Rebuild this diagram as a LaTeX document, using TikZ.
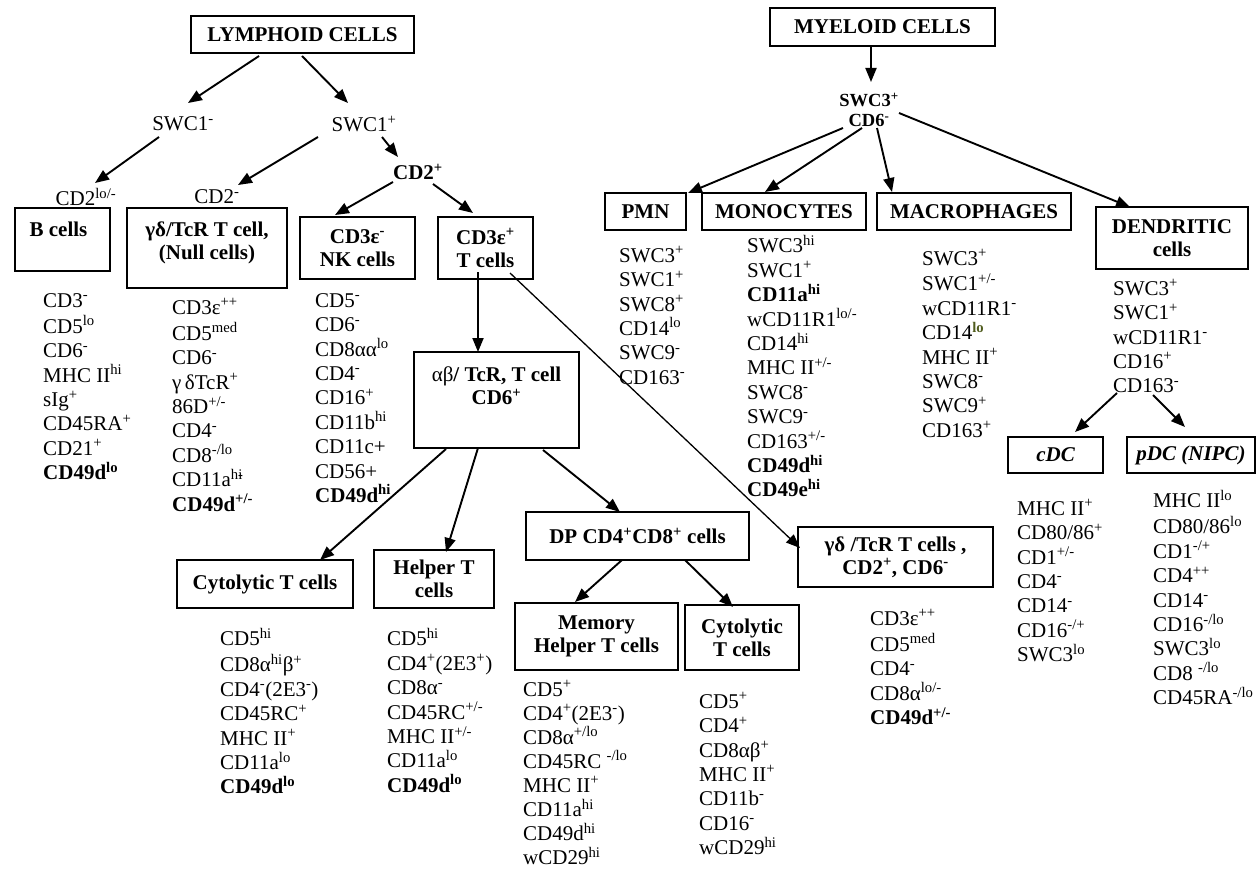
\documentclass[tikz,border=0pt]{standalone}
\usepackage{fontspec}
\setmainfont{Liberation Serif}
\usetikzlibrary{arrows.meta}
\definecolor{olivelo}{RGB}{80,92,30}
\newcommand\sps[1]{\textsuperscript{#1}}
\newcommand\lfont{\fontsize{21}{24.4}\selectfont}
\newcommand\mfont{\fontsize{21}{24.1}\selectfont}
\newcommand\bfont{\fontsize{21}{23}\selectfont\bfseries}
\newcommand\sfont{\fontsize{18.5}{19.5}\selectfont\bfseries}
\begin{document}
\begin{tikzpicture}[x=1pt,y=-1pt,
  box/.style={draw, line width=1.25pt, inner sep=0pt, font=\bfont, align=center},
  lst/.style={anchor=north west, inner sep=0pt, font=\lfont, align=left},
  lbl/.style={inner sep=0pt, font=\lfont},
  inlbl/.style={inner sep=0pt, font=\bfont, align=center, anchor=north},
  arr/.style={line width=1.9pt, -{Triangle[length=14pt,width=11pt]}},
  thinarr/.style={line width=1.3pt, -{Triangle[length=14pt,width=11pt]}}
]
\useasboundingbox (0,0) rectangle (1256,872);

% ---------------- boxes ----------------
\node[box, minimum width=223pt, minimum height=37pt] (lym) at (302.5,34.5) {LYMPHOID CELLS};
\node[box, minimum width=225pt, minimum height=38pt] (myl) at (882.5,27) {MYELOID CELLS};

\node[box, minimum width=95pt, minimum height=63pt,
  label={[inlbl, xshift=-4pt, yshift=-12.9pt]north:{\strut B cells}}] (bc) at (62.5,239.5) {};
\node[box, minimum width=160pt, minimum height=80pt,
  label={[inlbl, yshift=-12.9pt]north:{\strut γδ/TcR T cell,\\(Null cells)}}] (gd) at (207,248) {};
\node[box, minimum width=115pt, minimum height=62pt] (nk) at (357.5,248) {CD3ε\sps{-}\\NK cells};
\node[box, minimum width=95pt, minimum height=62pt] (tc) at (485.5,248) {CD3ε\sps{+}\\T cells};
\node[box, minimum width=165pt, minimum height=96pt,
  label={[inlbl, yshift=-13.9pt]north:{\strut{\mdseries αβ}/ TcR, T cell\\CD6\sps{+}}}] (ab) at (496.5,400) {};
\node[box, minimum width=176pt, minimum height=48pt] (cyt) at (265,584) {Cytolytic T cells};
\node[box, minimum width=120pt, minimum height=58pt] (hel) at (434,579) {Helper T\\cells};
\node[box, minimum width=223pt, minimum height=48pt] (dp) at (637.5,536) {DP CD4\sps{+}CD8\sps{+} cells};
\node[box, minimum width=163pt, minimum height=67pt] (mem) at (596.5,636.5) {Memory\\Helper T cells};
\node[box, minimum width=114pt, minimum height=65pt] (cyt2) at (742,637.5) {Cytolytic\\T cells};
\node[box, minimum width=195pt, minimum height=60pt] (gd2) at (895.5,557) {γδ /TcR T cells ,\\CD2\sps{+}, CD6\sps{-}};

\node[box, minimum width=81pt, minimum height=37pt] (pmn) at (645.5,211.5) {PMN};
\node[box, minimum width=164pt, minimum height=37pt] (mono) at (784,211.5) {MONOCYTES};
\node[box, minimum width=194pt, minimum height=37pt] (macro) at (974,211.5) {MACROPHAGES};
\node[box, minimum width=152pt, minimum height=62pt] (dend) at (1172,238) {DENDRITIC\\cells};
\node[box, minimum width=95pt, minimum height=36pt] (cdc) at (1055.5,455) {\itshape cDC};
\node[box, minimum width=128pt, minimum height=36pt] (pdc) at (1191,455) {\itshape pDC (NIPC)};

% ---------------- free labels ----------------
\node[lbl] (swcm) at (183,124) {SWC1\sps{-}};
\node[lbl] (swcp) at (364,124) {SWC1\sps{+}};
\node[lbl, font=\lfont\bfseries] (cd2p) at (418,172) {CD2\sps{+}};
\node[lbl] (cd2lo) at (86,197) {CD2\sps{lo/-}};
\node[lbl] (cd2m) at (217,197) {CD2\sps{-}};
\node[lbl, font=\sfont, align=center] (swc3) at (869,110) {SWC3\sps{+}\\CD6\sps{-}};

% ---------------- marker lists ----------------
\node[lst] (bl) at (43,290) {\strut CD3\sps{-}\\CD5\sps{lo}\\CD6\sps{-}\\MHC II\sps{hi}\\sIg\sps{+}\\CD45RA\sps{+}\\CD21\sps{+}\\\textbf{CD49d\sps{lo}}};
\node[lst] (gdl) at (172,297) {\strut CD3ε\sps{++}\\CD5\sps{med}\\CD6\sps{-}\\γ\,δTcR\sps{+}\\86D\sps{+/-}\\CD4\sps{-}\\CD8\sps{-/lo}\\CD11a\sps{hi\kern-0.28em-}\\\textbf{CD49d\sps{+/-}}};
\node[lst] (nkl) at (315,290) {\strut CD5\sps{-}\\CD6\sps{-}\\CD8αα\sps{lo}\\CD4\sps{-}\\CD16\sps{+}\\CD11b\sps{hi}\\CD11c+\\CD56+\\\textbf{CD49d\sps{hi}}};
\node[lst] (cyl) at (220,628) {\strut CD5\sps{hi}\\CD8α\sps{hi}β\sps{+}\\CD4\sps{-}(2E3\sps{-})\\CD45RC\sps{+}\\MHC II\sps{+}\\CD11a\sps{lo}\\\textbf{CD49d\sps{lo}}};
\node[lst] (hell) at (387,628) {\strut CD5\sps{hi}\\CD4\sps{+}(2E3\sps{+})\\CD8α\sps{-}\\CD45RC\sps{+/-}\\MHC II\sps{+/-}\\CD11a\sps{lo}\\\textbf{CD49d\sps{lo}}};
\node[lst, font=\mfont] (meml) at (523,679) {\strut CD5\sps{+}\\CD4\sps{+}(2E3\sps{-})\\CD8α\sps{+/lo}\\CD45RC \sps{-/lo}\\MHC II\sps{+}\\CD11a\sps{hi}\\CD49d\sps{hi}\\wCD29\sps{hi}};
\node[lst] (c2l) at (699,691) {\strut CD5\sps{+}\\CD4\sps{+}\\CD8αβ\sps{+}\\MHC II\sps{+}\\CD11b\sps{-}\\CD16\sps{-}\\wCD29\sps{hi}};
\node[lst] (g2l) at (870,608) {\strut CD3ε\sps{++}\\CD5\sps{med}\\CD4\sps{-}\\CD8α\sps{lo/-}\\\textbf{CD49d\sps{+/-}}};
\node[lst] (pml) at (619,245) {\strut SWC3\sps{+}\\SWC1\sps{+}\\SWC8\sps{+}\\CD14\sps{lo}\\SWC9\sps{-}\\CD163\sps{-}};
\node[lst] (mol) at (747,235) {\strut SWC3\sps{hi}\\SWC1\sps{+}\\\textbf{CD11a\sps{hi}}\\wCD11R1\sps{lo/-}\\CD14\sps{hi}\\MHC II\sps{+/-}\\SWC8\sps{-}\\SWC9\sps{-}\\CD163\sps{+/-}\\\textbf{CD49d\sps{hi}}\\\textbf{CD49e\sps{hi}}};
\node[lst] (mal) at (922,248) {\strut SWC3\sps{+}\\SWC1\sps{+/-}\\wCD11R1\sps{-}\\CD14\sps{\textcolor{olivelo}{\bfseries lo}}\\MHC II\sps{+}\\SWC8\sps{-}\\SWC9\sps{+}\\CD163\sps{+}};
\node[lst] (del) at (1113,278) {\strut SWC3\sps{+}\\SWC1\sps{+}\\wCD11R1\sps{-}\\CD16\sps{+}\\CD163\sps{-}};
\node[lst] (cdl) at (1017,498) {\strut MHC II\sps{+}\\CD80/86\sps{+}\\CD1\sps{+/-}\\CD4\sps{-}\\CD14\sps{-}\\CD16\sps{-/+}\\SWC3\sps{lo}};
\node[lst] (pdl) at (1153,490) {\strut MHC II\sps{lo}\\CD80/86\sps{lo}\\CD1\sps{-/+}\\CD4\sps{++}\\CD14\sps{-}\\CD16\sps{-/lo}\\SWC3\sps{lo}\\CD8 \sps{-/lo}\\CD45RA\sps{-/lo}};

% ---------------- connector end points ----------------
\coordinate (lymL) at (259,56);   \coordinate (swcmT) at (188,103);
\coordinate (lymR) at (302,56);   \coordinate (swcpT) at (348,103);
\coordinate (swcmB) at (159,137); \coordinate (cd2loT) at (95,183);
\coordinate (swcpB) at (318,137); \coordinate (cd2mT) at (238,185);
\coordinate (swcpR) at (382,137); \coordinate (cd2pT) at (398,157);
\coordinate (cd2pL) at (393,182); \coordinate (nkT) at (335,215);
\coordinate (cd2pR) at (433,184); \coordinate (tcT) at (473,213);
\coordinate (tcB) at (478,272);   \coordinate (abT) at (478,352);
\coordinate (tcBR) at (510,273);  \coordinate (gd2L) at (800,548);
\coordinate (abB1) at (446,449);  \coordinate (cytT) at (320,560);
\coordinate (abB2) at (478,448);  \coordinate (helT) at (446,552);
\coordinate (abB3) at (543,450);  \coordinate (dpT) at (620,512);
\coordinate (dpB1) at (622,560);  \coordinate (memT) at (575,602);
\coordinate (dpB2) at (685,560);  \coordinate (cyt2T) at (733,607);
\coordinate (mylB) at (871,47);   \coordinate (swc3T) at (871,82);
\coordinate (cd6a) at (843,128);  \coordinate (pmnT) at (688,193);
\coordinate (cd6b) at (862,128);  \coordinate (monoT) at (765,192);
\coordinate (cd6c) at (877,128);  \coordinate (macroT) at (892,192);
\coordinate (cd6d) at (899,113);  \coordinate (dendT) at (1130,207);
\coordinate (delA) at (1117,393); \coordinate (cdcT) at (1075,432);
\coordinate (delB) at (1153,395); \coordinate (pdcT) at (1185,427);

% ---------------- connectors ----------------
\draw[arr] (lymL) -- (swcmT);
\draw[arr] (lymR) -- (swcpT);
\draw[arr] (swcmB) -- (cd2loT);
\draw[arr] (swcpB) -- (cd2mT);
\draw[arr] (swcpR) -- (cd2pT);
\draw[arr] (cd2pL) -- (nkT);
\draw[arr] (cd2pR) -- (tcT);
\draw[arr] (tcB) -- (abT);
\draw[thinarr] (tcBR) -- (gd2L);
\draw[arr] (abB1) -- (cytT);
\draw[arr] (abB2) -- (helT);
\draw[arr] (abB3) -- (dpT);
\draw[arr] (dpB1) -- (memT);
\draw[arr] (dpB2) -- (cyt2T);
\draw[arr] (mylB) -- (swc3T);
\draw[arr] (cd6a) -- (pmnT);
\draw[arr] (cd6b) -- (monoT);
\draw[arr] (cd6c) -- (macroT);
\draw[arr] (cd6d) -- (dendT);
\draw[arr] (delA) -- (cdcT);
\draw[arr] (delB) -- (pdcT);
\end{tikzpicture}
\end{document}
